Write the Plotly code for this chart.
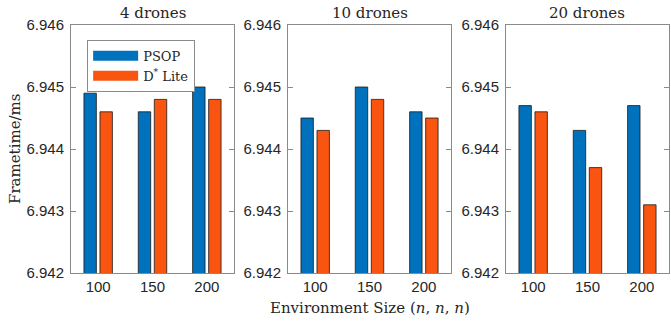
import plotly.graph_objects as go

sizes = ["100", "150", "200"]
panel_titles = ["4 drones", "10 drones", "20 drones"]
psop = [
    [6.9449, 6.9446, 6.9450],
    [6.9445, 6.9450, 6.9446],
    [6.9447, 6.9443, 6.9447],
]
dstar = [
    [6.9446, 6.9448, 6.9448],
    [6.9443, 6.9448, 6.9445],
    [6.9446, 6.9437, 6.9431],
]
y_ticks = [6.942, 6.943, 6.944, 6.945, 6.946]
series_names = ["PSOP", "D<sup>*</sup> Lite"]

BLUE = "#0072BD"
ORANGE = "#F95410"
AXC = "#8a8a8a"
TXT = "#262626"
SERIF = "DejaVu Serif"
SANS = "Liberation Sans"

domains = [[0.0, 0.2726], [0.3629, 0.6355], [0.7274, 1.0]]

fig = go.Figure()
for i in range(3):
    xa = "x" if i == 0 else f"x{i+1}"
    ya = "y" if i == 0 else f"y{i+1}"
    fig.add_trace(go.Bar(x=sizes, y=psop[i], name=series_names[0], marker_color=BLUE,
                         marker_line=dict(color="#1a1a1a", width=0.8),
                         xaxis=xa, yaxis=ya, showlegend=False, offsetgroup="a"))
    fig.add_trace(go.Bar(x=sizes, y=dstar[i], name=series_names[1], marker_color=ORANGE,
                         marker_line=dict(color="#1a1a1a", width=0.8),
                         xaxis=xa, yaxis=ya, showlegend=False, offsetgroup="b"))

# legend entries (wide swatches like the reference)
for name, col in zip(series_names, [BLUE, ORANGE]):
    fig.add_trace(go.Scatter(x=[None], y=[None], mode="lines", name=name,
                             line=dict(color=col, width=12), showlegend=True,
                             hoverinfo="skip"))

layout = dict(
    width=671, height=322,
    margin=dict(l=71, r=2, t=25, b=49, autoexpand=False),
    plot_bgcolor="white", paper_bgcolor="white",
    barmode="group", bargap=0.41, bargroupgap=0.225,
    font=dict(family=SANS, size=15, color=TXT),
    legend=dict(x=0.027, y=0.94, xanchor="left", yanchor="top",
                bgcolor="white", bordercolor=AXC, borderwidth=1,
                font=dict(family=SERIF, size=13, color=TXT),
                tracegroupgap=0, itemwidth=45),
)
annotations = []
for i in range(3):
    sx = "" if i == 0 else str(i + 1)
    layout["xaxis" + sx] = dict(
        domain=domains[i], anchor="y" + sx, type="category", automargin=False,
        range=[-0.5, 2.5], showline=True, linecolor=AXC, linewidth=1, mirror=True,
        ticks="", tickfont=dict(family=SANS, size=15, color=TXT), fixedrange=True,
    )
    layout["yaxis" + sx] = dict(
        anchor="x" + sx, range=[6.942, 6.946], tickvals=y_ticks, automargin=False,
        ticktext=[f"{v:.3f}" for v in y_ticks], ticklabelstandoff=3,
        showline=True, linecolor=AXC, linewidth=1, mirror="ticks",
        ticks="inside", ticklen=5, tickcolor=AXC, showgrid=False, zeroline=False,
        tickfont=dict(family=SANS, size=15, color=TXT), fixedrange=True,
    )
    annotations.append(dict(
        text=panel_titles[i], xref="paper", yref="paper",
        x=(domains[i][0] + domains[i][1]) / 2, y=1.0, yshift=1,
        xanchor="center", yanchor="bottom", showarrow=False,
        font=dict(family=SERIF, size=15, color=TXT)))

annotations.append(dict(
    text="Frametime/ms", xref="paper", yref="paper", textangle=-90,
    x=0, xshift=-56, y=0.5, xanchor="center", yanchor="middle", showarrow=False,
    font=dict(family=SERIF, size=15, color=TXT)))
annotations.append(dict(
    text="Environment Size (<i>n</i>, <i>n</i>, <i>n</i>)", xref="paper", yref="paper",
    x=0.5, y=0, yshift=-24, xanchor="center", yanchor="top", showarrow=False,
    font=dict(family=SERIF, size=15, color=TXT)))
layout["annotations"] = annotations
fig.update_layout(**layout)
fig.write_html("out.html", config={"displayModeBar": False},
               post_script="document.body.style.margin='0';")
